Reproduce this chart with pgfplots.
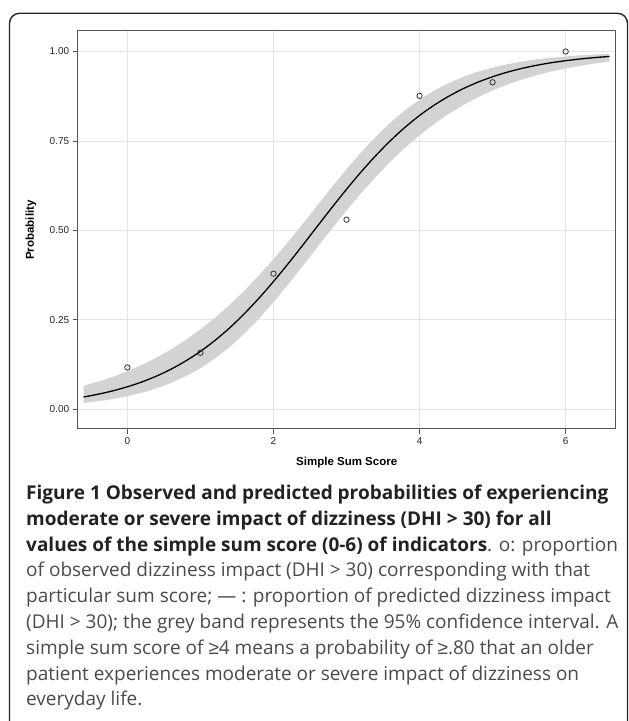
\documentclass[border=0pt]{standalone}
\usepackage{fontspec}
\setmainfont{Open Sans}
\newfontfamily\arialf{Liberation Sans}
\usepackage{pgfplots}
\pgfplotsset{compat=1.18}

\definecolor{bandgray}{HTML}{D3D3D3}
\definecolor{gridgray}{HTML}{E4E4E4}
\definecolor{axgray}{HTML}{555555}
\definecolor{capbold}{HTML}{222222}
\definecolor{captxt}{HTML}{4A4A4A}

\begin{document}
\begin{tikzpicture}[x=1pt,y=1pt]
\useasboundingbox (0,0) rectangle (629,721);
\draw[line width=1.4pt, black!85, rounded corners=10pt]
  (9.5,-30) -- (9.5,707.7) -- (627.5,707.7) -- (627.5,-30);

\begin{axis}[
  at={(77.7pt,292pt)}, anchor=south west,
  width=538pt, height=398pt, scale only axis,
  xmin=-0.68, xmax=6.685, ymin=-0.055, ymax=1.0573,
  xtick={0,2,4,6}, ytick={0,0.25,0.5,0.75,1},
  xtick pos=bottom, ytick pos=left,
  tick align=outside, major tick length=5pt,
  tick style={axgray, line width=0.9pt},
  axis line style={axgray, line width=1pt},
  grid=major, major grid style={gridgray, line width=0.8pt},
  /pgf/number format/assume math mode=true,
  ticklabel style={font=\arialf\fontsize{10}{12}\selectfont, text=black!85},
  yticklabel style={/pgf/number format/.cd, fixed, fixed zerofill, precision=2},
  xlabel={Simple Sum Score}, ylabel={Probability},
  label style={font=\arialf\bfseries\fontsize{11.5}{13}\selectfont},
  xlabel style={at={(axis description cs:0.5,-0.0842)}, anchor=center},
  ylabel style={at={(axis description cs:-0.0868,0.5)}, anchor=center},
]
% 95% confidence band: upper edge left to right, lower edge right to left
\addplot[draw=none, fill=bandgray] coordinates {
  (-0.6,0.0659) (-0.4,0.0774) (-0.2,0.0908) (0,0.1063) (0.2,0.1240)
  (0.4,0.1444) (0.6,0.1677) (0.8,0.1939) (1.0,0.2232) (1.2,0.2558)
  (1.4,0.2920) (1.6,0.3314) (1.8,0.3740) (2.0,0.4195) (2.2,0.4678)
  (2.4,0.5180) (2.6,0.5695) (2.8,0.6211) (3.0,0.6710) (3.2,0.7182)
  (3.4,0.7618) (3.6,0.8012) (3.8,0.8357) (4.0,0.8654) (4.2,0.8907)
  (4.4,0.9118) (4.6,0.9293) (4.8,0.9436) (5.0,0.9551) (5.2,0.9644)
  (5.4,0.9718) (5.6,0.9778) (5.8,0.9825) (6.0,0.9862) (6.2,0.9891)
  (6.4,0.9915) (6.6,0.9933)
  (6.6,0.9717) (6.4,0.9664) (6.2,0.9601) (6.0,0.9526) (5.8,0.9439)
  (5.6,0.9336) (5.4,0.9215) (5.2,0.9074) (5.0,0.8912) (4.8,0.8723)
  (4.6,0.8507) (4.4,0.8258) (4.2,0.7977) (4.0,0.7662) (3.8,0.7310)
  (3.6,0.6922) (3.4,0.6497) (3.2,0.6041) (3.0,0.5557) (2.8,0.5050)
  (2.6,0.4529) (2.4,0.4003) (2.2,0.3487) (2.0,0.2992) (1.8,0.2529)
  (1.6,0.2112) (1.4,0.1739) (1.2,0.1421) (1.0,0.1149) (0.8,0.0924)
  (0.6,0.0738) (0.4,0.0586) (0.2,0.0464) (0,0.0366) (-0.2,0.0288)
  (-0.4,0.0226) (-0.6,0.0177)
} -- cycle;
% predicted probability
\addplot[black, line width=1.3pt, smooth] coordinates {
  (-0.6,0.0344) (-0.4,0.0422) (-0.2,0.0516) (0,0.0630) (0.2,0.0766)
  (0.4,0.0930) (0.6,0.1124) (0.8,0.1353) (1.0,0.1619) (1.2,0.1926)
  (1.4,0.2276) (1.6,0.2670) (1.8,0.3103) (2.0,0.3571) (2.2,0.4068)
  (2.4,0.4585) (2.6,0.5114) (2.8,0.5639) (3.0,0.6149) (3.2,0.6636)
  (3.4,0.7089) (3.6,0.7506) (3.8,0.7880) (4.0,0.8212) (4.2,0.8500)
  (4.4,0.8750) (4.6,0.8964) (4.8,0.9144) (5.0,0.9295) (5.2,0.9422)
  (5.4,0.9527) (5.6,0.9614) (5.8,0.9685) (6.0,0.9743) (6.2,0.9791)
  (6.4,0.9830) (6.6,0.9862)
};
% observed proportions
\addplot[only marks, mark=o, mark size=2.7pt, mark options={black!80, line width=0.8pt}]
  coordinates {(0,0.117) (1,0.158) (2,0.379) (3,0.530) (4,0.876) (5,0.914) (6,1.000)};
\end{axis}

\begin{scope}[every node/.style={anchor=base west, inner sep=0pt,
    font=\fontsize{19}{22}\selectfont, text=captxt}]
\node at (26,221.5) {\textcolor{capbold}{\bfseries Figure 1 Observed and predicted probabilities of experiencing}};
\node at (26,195.7) {\textcolor{capbold}{\bfseries moderate or severe impact of dizziness (DHI > 30) for all}};
\node at (26,169.9) {\textcolor{capbold}{\bfseries values of the simple sum score (0-6) of indicators}. o: proportion};
\node at (26,144.1) {of observed dizziness impact (DHI > 30) corresponding with that};
\node at (26,118.3) {particular sum score; --- : proportion of predicted dizziness impact};
\node at (26,92.5) {(DHI > 30); the grey band represents the 95\% confidence interval. A};
\node at (26,66.7) {simple sum score of {\arialf ≥}4 means a probability of {\arialf ≥}.80 that an older};
\node at (26,40.9) {patient experiences moderate or severe impact of dizziness on};
\node at (26,15.1) {everyday life.};
\end{scope}
\end{tikzpicture}
\end{document}
